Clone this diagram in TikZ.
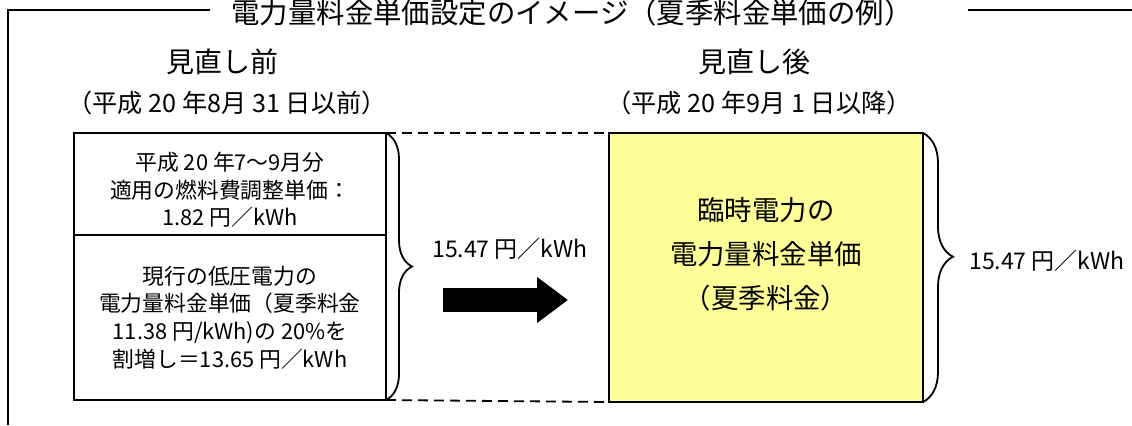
\documentclass[tikz,border=0pt]{standalone}
\usepackage{fontspec}
\newfontfamily\jp{Noto Sans CJK JP}
\usetikzlibrary{positioning,arrows.meta,decorations.pathreplacing}
\definecolor{lightyel}{RGB}{255,255,153}

\begin{document}
\begin{tikzpicture}[x=0.5pt,y=-0.5pt,
		box/.style={draw,line width=0.9pt,inner sep=0pt,outer sep=0pt,minimum width=156pt},
		boxtxt/.style={align=center,font=\jp\fontsize{10.9}{13.8}\selectfont},
		head/.style={anchor=base,font=\jp\fontsize{14}{16}\selectfont},
		date/.style={anchor=base,font=\jp\fontsize{12.6}{15}\selectfont},
		price/.style={anchor=base,font=\jp\fontsize{11.5}{14}\selectfont},
		brc/.style={decorate,decoration={brace,amplitude=#1},line width=0.9pt}
		]
		\useasboundingbox (0,0) rectangle (1132,425);

		% frame and title
		\node[anchor=base,font=\jp\fontsize{14.2}{17}\selectfont](Ttl) at (572,23){電力量料金単価設定のイメージ（夏季料金単価の例）};
		\draw[line width=1pt] (210,10) -| (8,425);
		\draw[line width=1pt] (968,10) -- (1132,10);

		% before
		\node[head](Hd0) at (222,72){見直し前};
		\node[date](Dt0) at (227,112){（平成 20 年8月 31 日以前）};
		\node[box, minimum height=51pt](Old1) at (230,184){};
		\node[box, minimum height=82.5pt, below=0pt of Old1](Old2){};
		\node[boxtxt, yshift=-3pt](Old1Txt) at (Old1){平成 20 年7～9月分\\適用の燃料費調整単価：\\1.82 円／kWh};
		\node[boxtxt](Old2Txt) at (Old2){現行の低圧電力の\\電力量料金単価（夏季料金\\11.38 円/kWh)の 20\%を\\割増し＝13.65 円／kWh};

		% after
		\node[head](Hd1) at (754,72){見直し後};
		\node[date](Dt1) at (759,112){（平成 20 年9月 1 日以降）};
		\node[box,fill=lightyel,minimum width=157pt,minimum height=134.5pt](New) at (766,267.5){};
		\node[align=center,font=\jp\fontsize{13.7}{22}\selectfont](NewTxt) at (766,254){臨時電力の\\電力量料金単価\\（夏季料金）};

		\draw[dashed,dash pattern=on 5pt off 3pt,line width=0.9pt] (Old1.north east) -- (New.north west);
		\draw[dashed,dash pattern=on 5pt off 3pt,line width=0.9pt] (Old2.south east) -- (New.south west);

		\draw[brc=13pt] (Old1.north east) -- (Old2.south east);
		\draw[brc=15pt,decoration={aspect=0.46}] (New.north east) -- (New.south east);

		\node[price](P0) at (510,257){15.47 円／kWh};
		\node[price](P1) at (1047,269){15.47 円／kWh};

		\coordinate (ArrS) at (443,300);
		\coordinate (ArrE) at (568,300);
		\draw[line width=12pt,-{Triangle[length=15.5pt,width=22pt]}] (ArrS) -- (ArrE);
	\end{tikzpicture}
\end{document}
